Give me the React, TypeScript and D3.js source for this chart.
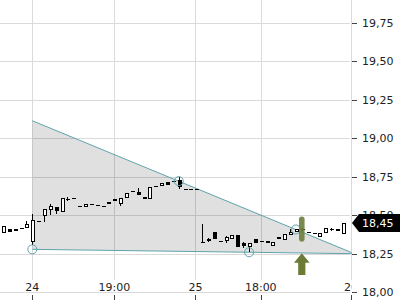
import React from 'react';
import * as d3 from 'd3';

// candles start at index -5 (previous session), index 0 = "24" session open
const firstIndex = -5;
const opens = [18.392, 18.409, 18.408, 18.416, 18.422,
  18.335, 18.465, 18.502, 18.539, 18.552, 18.528, 18.606, 18.610, 18.560, 18.560,
  18.573, 18.567, 18.560, 18.586, 18.604, 18.578, 18.619, 18.656, 18.653, 18.621,
  18.608, 18.690, 18.695, 18.714, 18.723, 18.729, 18.671, 18.671, 18.671,
  18.326, 18.340, 18.394, 18.333, 18.340, 18.351, 18.372, 18.318, 18.301, 18.344,
  18.335, 18.333, 18.307, 18.357, 18.344, 18.379, 18.398, 18.409, 18.394, 18.387,
  18.370, 18.390, 18.411, 18.409, 18.384];
const closes = [18.431, 18.390, 18.392, 18.416, 18.442,
  18.470, 18.465, 18.539, 18.560, 18.523, 18.610, 18.606, 18.610, 18.552, 18.573,
  18.567, 18.558, 18.560, 18.575, 18.588, 18.612, 18.645, 18.656, 18.634, 18.610,
  18.682, 18.690, 18.708, 18.695, 18.723, 18.686, 18.671, 18.671, 18.671,
  18.322, 18.348, 18.351, 18.333, 18.357, 18.372, 18.296, 18.296, 18.322, 18.318,
  18.335, 18.318, 18.329, 18.344, 18.377, 18.394, 18.409, 18.400, 18.387, 18.379,
  18.387, 18.416, 18.409, 18.394, 18.450];
const highs = [18.431, 18.409, 18.408, 18.416, 18.463,
  18.506, 18.465, 18.539, 18.575, 18.556, 18.610, 18.617, 18.610, 18.560, 18.573,
  18.573, 18.567, 18.560, 18.586, 18.604, 18.612, 18.645, 18.656, 18.675, 18.621,
  18.682, 18.690, 18.708, 18.714, 18.723, 18.747, 18.671, 18.671, 18.671,
  18.442, 18.353, 18.394, 18.333, 18.366, 18.372, 18.372, 18.325, 18.322, 18.344,
  18.335, 18.333, 18.329, 18.357, 18.377, 18.409, 18.409, 18.418, 18.394, 18.387,
  18.387, 18.416, 18.416, 18.409, 18.450];
const lows = [18.392, 18.390, 18.392, 18.416, 18.422,
  18.307, 18.465, 18.455, 18.502, 18.508, 18.528, 18.595, 18.610, 18.552, 18.560,
  18.567, 18.558, 18.560, 18.575, 18.588, 18.562, 18.619, 18.656, 18.634, 18.610,
  18.608, 18.690, 18.695, 18.695, 18.723, 18.669, 18.671, 18.671, 18.671,
  18.320, 18.329, 18.351, 18.333, 18.318, 18.351, 18.296, 18.286, 18.264, 18.318,
  18.335, 18.318, 18.307, 18.344, 18.344, 18.379, 18.398, 18.400, 18.387, 18.379,
  18.370, 18.390, 18.396, 18.394, 18.384];

const xTickIdx = [0, 14, 27.85, 39, 54.4];
const xTickLabels = ['24', '19:00', '25', '18:00', '26'];
const yTicks = [18.0, 18.25, 18.5, 18.75, 19.0, 19.25, 19.5, 19.75];

const trendTop: [number, number][] = [[0, 19.114], [54.5, 18.258]];
const trendBottom: [number, number][] = [[0, 18.279], [54.5, 18.251]];
const anchors: [number, number][] = [[0, 18.279], [25, 18.722], [37, 18.26], [45, 18.408]];

const markerIdx = 46;
const markerRange = [18.329, 18.493];
const arrowLevels = [18.253, 18.192, 18.112]; // apex, head base, stem end
const lastPrice = 18.45;

const fmt = (v: number) => v.toFixed(2).replace('.', ',');

export default function App() {
  const W = 400, H = 300;
  const plotRight = 352;
  const x = d3.scaleLinear().domain([0, 54.4]).range([32.3, 351]);
  const y = d3.scaleLinear().domain([18, 19.75]).range([292.3, 22.8]);
  const font = 'DejaVu Sans';

  const areaPts = [trendTop[0], trendTop[1], trendBottom[1], trendBottom[0]]
    .map(([i, v]) => `${x(i)},${y(v)}`).join(' ');
  const line = d3.line<[number, number]>().x(d => x(d[0])).y(d => y(d[1]));

  const mx = x(markerIdx);
  const hw = 7.8, sw = 3.6;
  const arrowPath = `M${mx},${y(arrowLevels[0])} L${mx + hw},${y(arrowLevels[1])} L${mx + sw},${y(arrowLevels[1])} L${mx + sw},${y(arrowLevels[2])} L${mx - sw},${y(arrowLevels[2])} L${mx - sw},${y(arrowLevels[1])} L${mx - hw},${y(arrowLevels[1])} Z`;

  const ly = y(lastPrice);

  return (
    <svg width={W} height={H} style={{ position: 'absolute', left: 0, top: 0, background: '#fff' }}
      fontFamily={font}>
      <defs>
        <clipPath id="plot"><rect x={0} y={0} width={plotRight} height={H} /></clipPath>
      </defs>
      <rect x={0} y={0} width={W} height={H} fill="#fff" />
      <g clipPath="url(#plot)">
        {yTicks.map(t => (
          <line key={t} x1={0} x2={350} y1={Math.round(y(t)) + 0.5} y2={Math.round(y(t)) + 0.5} stroke="#dadada" />
        ))}
        {xTickIdx.map(t => (
          <line key={t} x1={Math.round(x(t)) + 0.5} x2={Math.round(x(t)) + 0.5} y1={0} y2={280} stroke="#dadada" />
        ))}
        <polygon points={areaPts} fill="rgba(0,0,0,0.12)" />
        <path d={line(trendTop) || ''} fill="none" stroke="#5fa3ac" strokeWidth={1} />
        <path d={line(trendBottom) || ''} fill="none" stroke="#5fa3ac" strokeWidth={1} />
        {opens.map((o, k) => {
          const i = k + firstIndex;
          const c = closes[k];
          const cx = Math.round(x(i));
          const up = c > o;
          const yTop = y(Math.max(o, c));
          const yBot = y(Math.min(o, c));
          const hasWick = highs[k] > Math.max(o, c) || lows[k] < Math.min(o, c);
          return (
            <g key={k} shapeRendering="crispEdges">
              {hasWick && <line x1={cx + 0.5} x2={cx + 0.5} y1={y(highs[k])} y2={y(lows[k])} stroke="#000" />}
              {o === c ? (
                <rect x={cx - 1.5} y={Math.round(yTop)} width={4} height={1} fill="#000" />
              ) : up ? (
                <rect x={cx - 1} y={Math.round(yTop) + 0.5} width={3} height={Math.max(1, Math.round(yBot - yTop))} fill="#fff" stroke="#000" />
              ) : (
                <rect x={cx - 1.5} y={Math.round(yTop)} width={4} height={Math.max(1, Math.round(yBot - yTop))} fill="#000" />
              )}
            </g>
          );
        })}
        {anchors.map(([i, v], k) => (
          <circle key={k} cx={x(i)} cy={y(v)} r={4.5} fill="none" stroke="#5fa3ac" strokeWidth={1} />
        ))}
        <rect x={mx - 2.8} y={y(markerRange[1])} width={5.6} height={y(markerRange[0]) - y(markerRange[1])} rx={2.8} fill="#6d7e3a" opacity={0.9} />
        <path d={arrowPath} fill="#6b7c37" />
        {xTickIdx.map((t, k) => (
          <g key={t}>
            <text x={x(t)} y={290.5} textAnchor="middle" fontSize={11} fill="#222">{xTickLabels[k]}</text>
            <line x1={Math.round(x(t)) + 0.5} x2={Math.round(x(t)) + 0.5} y1={295} y2={300} stroke="#444" />
          </g>
        ))}
      </g>
      {yTicks.map(t => (
        <g key={t}>
          <line x1={352} x2={357} y1={Math.round(y(t)) + 0.5} y2={Math.round(y(t)) + 0.5} stroke="#444" />
          <text x={362} y={y(t) + 4} fontSize={11} fill="#222">{fmt(t)}</text>
        </g>
      ))}
      <path d={`M352,${ly} L359,${ly - 9} H400 V${ly + 9} H359 Z`} fill="#000" />
      <text x={362} y={ly + 4} fontSize={11} fill="#fff">{fmt(lastPrice)}</text>
    </svg>
  );
}
